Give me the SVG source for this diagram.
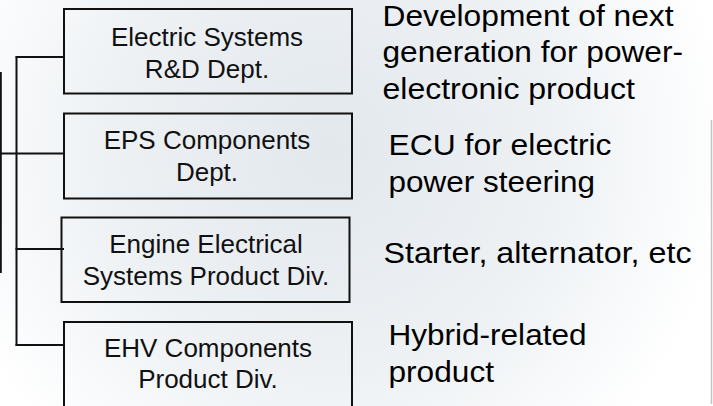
<svg xmlns="http://www.w3.org/2000/svg" width="713" height="406" viewBox="0 0 713 406">
<defs>
<radialGradient id="bg" cx="330" cy="150" r="400" gradientUnits="userSpaceOnUse">
<stop offset="0" stop-color="#e3e8ed"/>
<stop offset="0.55" stop-color="#edf1f4"/>
<stop offset="1" stop-color="#ffffff"/>
</radialGradient>
<style>
.box{fill:none;stroke:#111;stroke-width:2}
.bt{font-family:"Liberation Sans",Arial,sans-serif;font-size:26px;fill:#111;text-anchor:middle}
.rt{font-family:"Liberation Sans",Arial,sans-serif;font-size:30px;fill:#000}
.con{fill:none;stroke:#111;stroke-width:2}
</style>
</defs>
<rect x="0" y="0" width="713" height="406" fill="url(#bg)"/>
<line x1="711.5" y1="120" x2="711.5" y2="404" stroke="#c4c4c4" stroke-width="1.5"/>
<g id="connectors">
<line class="con" x1="16.5" y1="56.5" x2="16.5" y2="345.5"/>
<line class="con" x1="15.5" y1="57" x2="64" y2="57"/>
<line class="con" x1="0" y1="153.5" x2="64" y2="153.5"/>
<line class="con" x1="15.5" y1="249" x2="64" y2="249"/>
<line class="con" x1="15.5" y1="345" x2="64" y2="345"/>
<line class="con" x1="0.8" y1="72" x2="0.8" y2="273"/>
</g>
<g id="node-electric-systems">
<rect class="box" x="64" y="9" width="288" height="84.5"/>
<text class="bt" x="207" y="46">Electric Systems</text>
<text class="bt" x="207" y="77.5">R&amp;D Dept.</text>
</g>
<g id="node-eps">
<rect class="box" x="64" y="113.5" width="288" height="85"/>
<text class="bt" x="207" y="149">EPS Components</text>
<text class="bt" x="207" y="181">Dept.</text>
</g>
<g id="node-engine">
<rect class="box" x="61.5" y="217.5" width="288" height="84.5"/>
<text class="bt" x="206" y="253">Engine Electrical</text>
<text class="bt" x="206" y="284.5">Systems Product Div.</text>
</g>
<g id="node-ehv">
<path class="box" d="M64,408 V322 H352 V408"/>
<text class="bt" x="208" y="356.5">EHV Components</text>
<text class="bt" x="208" y="388">Product Div.</text>
</g>
<g id="descriptions">
<text class="rt" x="382.5" y="26" textLength="291" lengthAdjust="spacingAndGlyphs">Development of next</text>
<text class="rt" x="382.5" y="62" textLength="300.5" lengthAdjust="spacingAndGlyphs">generation for power-</text>
<text class="rt" x="382.5" y="98.5" textLength="252.5" lengthAdjust="spacingAndGlyphs">electronic product</text>
<text class="rt" x="388.5" y="155" textLength="223" lengthAdjust="spacingAndGlyphs">ECU for electric</text>
<text class="rt" x="388.5" y="191.5" textLength="206.5" lengthAdjust="spacingAndGlyphs">power steering</text>
<text class="rt" x="383.5" y="263" textLength="308" lengthAdjust="spacingAndGlyphs">Starter, alternator, etc</text>
<text class="rt" x="388.5" y="345" textLength="198" lengthAdjust="spacingAndGlyphs">Hybrid-related</text>
<text class="rt" x="388.5" y="381.5" textLength="105.5" lengthAdjust="spacingAndGlyphs">product</text>
</g>
</svg>
